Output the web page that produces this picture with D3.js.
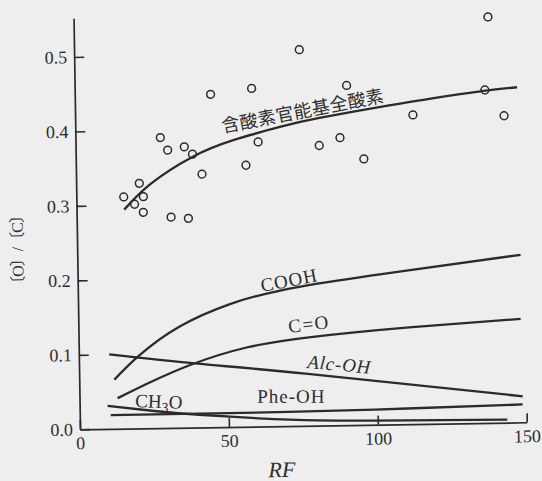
<!DOCTYPE html>
<html>
<head>
<meta charset="utf-8">
<script src="https://cdn.jsdelivr.net/npm/d3@7"></script>
<style>
  body { margin: 0; background: #eeeeee; }
  text { font-family: "Liberation Serif", "DejaVu Serif", serif; fill: #2e2e2e; }
</style>
</head>
<body>
<div id="chart"></div>
<script>
// scatter points: [RF, O/C]
const samples = [[15.9,0.311],[19.5,0.301],[21.2,0.329],[22.5,0.311],[22.4,0.290],
  [28.5,0.390],[30.9,0.373],[31.7,0.283],[36.5,0.377],[37.5,0.281],[39.2,0.367],
  [42.3,0.340],[45.6,0.447],[57.1,0.351],[59.4,0.454],[61.3,0.382],[75.6,0.505],
  [81.8,0.376],[88.8,0.386],[91.3,0.456],[96.7,0.357],[113.4,0.415],[137.7,0.447],
  [139.1,0.545],[144.0,0.412]];

// fitted curves
const totalOxygen = [[16,0.294],[25,0.328],[39,0.363],[53,0.385],[69,0.402],[82,0.413],[105,0.428],[120,0.437],[138,0.446],[148.5,0.450]];
const cooh = [[11.8,0.066],[20,0.097],[34,0.136],[51,0.165],[63,0.178],[78,0.189],[108,0.205],[148.8,0.225]];
const carbonyl = [[12.8,0.041],[24,0.062],[38,0.085],[56,0.106],[78,0.119],[111,0.130],[148.5,0.139]];
const alcOH = [[10.2,0.100],[39,0.086],[76,0.070],[148.8,0.035]];
const pheOH = [[10.4,0.0185],[40,0.0185],[70,0.019],[110,0.021],[148.7,0.024]];
const methoxy = [[9.4,0.031],[25,0.023],[40,0.017],[60,0.011],[80,0.007],[110,0.005],[143.5,0.004]];

const xTicks = [0, 50, 100, 150];
const yTicks = [0, 0.1, 0.2, 0.3, 0.4, 0.5];

const W = 542, H = 481;
const ink = "#2b2b2b";
const serif = "'Liberation Serif', 'DejaVu Serif', serif";

const svg = d3.select("#chart").append("svg")
  .attr("width", W).attr("height", H);
svg.append("rect").attr("width", W).attr("height", H).attr("fill", "#eeeeee");

// the scanned figure sits a little tilted, so the plot group is rotated slightly
const g = svg.append("g").attr("transform", "translate(80,429.3) rotate(-0.9)");

const x = d3.scaleLinear().domain([0, 150]).range([0, 446.8]);
const y = d3.scaleLinear().domain([0, 0.552]).range([0, -411.1]);

// axes, ticks point inward
const xAxis = g.append("g")
  .call(d3.axisBottom(x).tickValues(xTicks).tickSize(-9).tickSizeOuter(0).tickPadding(7.2));
const yAxis = g.append("g")
  .call(d3.axisLeft(y).tickValues(yTicks).tickFormat(d3.format(".1f")).tickSize(-10).tickSizeOuter(0).tickPadding(7));
[xAxis, yAxis].forEach(a => {
  a.attr("font-family", null).attr("font-size", null);
  a.select(".domain").attr("stroke", ink).attr("stroke-width", 1.7);
  a.selectAll(".tick line").attr("stroke", ink).attr("stroke-width", 1.6);
  a.selectAll(".tick text")
    .style("font-family", serif)
    .style("font-size", "18px")
    .attr("fill", "#2e2e2e");
});

// curves
const line = d3.line()
  .x(d => x(d[0]))
  .y(d => y(d[1]))
  .curve(d3.curveNatural);

[totalOxygen, cooh, carbonyl, alcOH, pheOH, methoxy].forEach(s => {
  g.append("path")
    .datum(s)
    .attr("fill", "none")
    .attr("stroke", ink)
    .attr("stroke-width", 2.3)
    .attr("d", line);
});

// open circles
g.append("g")
  .selectAll("circle")
  .data(samples)
  .enter()
  .append("circle")
    .attr("cx", d => x(d[0]))
    .attr("cy", d => y(d[1]))
    .attr("r", 3.9)
    .attr("fill", "none")
    .attr("stroke", ink)
    .attr("stroke-width", 1.5);

// curve labels
function note(txt, rf, v, angle, size, extra) {
  const t = g.append("text")
    .attr("transform", `translate(${x(rf)},${y(v)}) rotate(${angle})`)
    .style("font-family", serif)
    .style("font-size", size + "px")
    .text(txt);
  if (extra) extra(t);
  return t;
}
note("含酸素官能基全酸素", 49.6, 0.395, -10, 18, t => t.style("font-family", "'Noto Sans CJK JP'").style("letter-spacing", "0.3px"));
note("COOH", 61.8, 0.1805, -10, 19, t => t.style("letter-spacing", "1px"));
note("C=O", 70.7, 0.125, -6, 19, t => t.style("letter-spacing", "1.5px"));
note("Alc-OH", 76.5, 0.0775, 6, 19, t => t.style("font-style", "italic").style("letter-spacing", "0.8px"));
note("Phe-OH", 59.6, 0.032, 1, 19, t => t.style("letter-spacing", "1px"));

const ch3o = note("CH", 18.6, 0.0288, 3, 19);
ch3o.append("tspan").attr("dy", 4).style("font-size", "14px").text("3");
ch3o.append("tspan").attr("dy", -4).text("O");

// axis titles
g.append("text")
  .attr("x", 201.3).attr("y", 50.9)
  .attr("text-anchor", "middle")
  .style("font-family", serif)
  .style("font-size", "22px")
  .style("font-style", "italic")
  .text("RF");

g.append("text")
  .attr("transform", "translate(-59.7,-180.3) rotate(-90)")
  .attr("text-anchor", "middle")
  .attr("dominant-baseline", "central")
  .style("font-family", "'Liberation Serif', 'Noto Sans CJK JP', serif")
  .style("font-size", "16px")
  .style("letter-spacing", "-1px")
  .text("〔O〕/〔C〕");
</script>
</body>
</html>
